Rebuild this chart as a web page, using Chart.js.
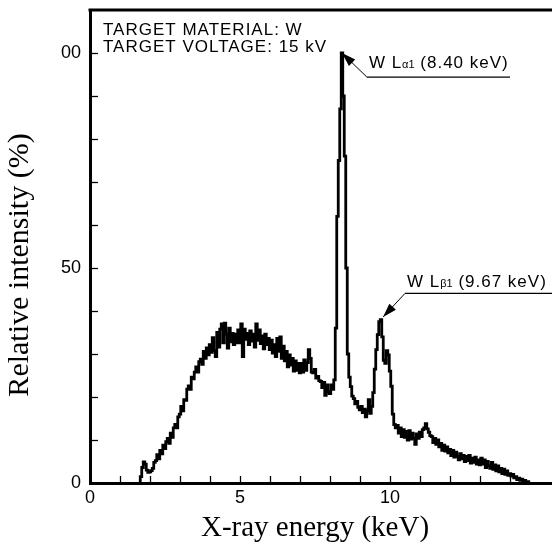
<!DOCTYPE html>
<html><head><meta charset="utf-8">
<script src="https://cdn.jsdelivr.net/npm/chart.js@4"></script>
<style>html,body{margin:0;padding:0;background:#fff;}canvas{display:block;}</style>
</head><body>
<canvas id="c" width="552" height="550" style="width:552px;height:550px"></canvas>
<script>
// ---- data ----
const energy = [
 1.65,1.70,1.75,1.80,1.85,1.90,1.95,
 2.00,2.05,2.10,2.15,2.20,2.25,2.30,2.35,2.40,2.45,2.50,2.55,2.60,2.65,2.70,2.75,2.80,2.85,2.90,2.95,
 3.00,3.05,3.10,3.15,3.20,3.25,3.30,3.35,3.40,3.45,3.50,3.55,3.60,3.65,3.70,3.75,3.80,3.85,3.90,3.95,
 4.00,4.05,4.10,4.15,4.20,4.25,4.30,4.35,4.40,4.45,4.50,4.55,4.60,4.65,4.70,4.75,4.80,4.85,4.90,4.95,
 5.00,5.05,5.10,5.15,5.20,5.25,5.30,5.35,5.40,5.45,5.50,5.55,5.60,5.65,5.70,5.75,5.80,5.85,5.90,5.95,
 6.00,6.05,6.10,6.15,6.20,6.25,6.30,6.35,6.40,6.45,6.50,6.55,6.60,6.65,6.70,6.75,6.80,6.85,6.90,6.95,
 7.00,7.05,7.10,7.15,7.20,7.25,7.30,7.35,7.40,7.45,7.50,7.55,7.60,7.65,7.70,7.75,7.80,7.85,7.90,7.95,
 8.00,8.05,8.10,8.15,8.20,8.25,8.30,8.35,8.40,8.45,8.50,8.55,8.60,8.65,8.70,8.75,8.80,8.85,8.90,8.95,
 9.00,9.05,9.10,9.15,9.20,9.25,9.30,9.35,9.40,9.45,9.50,9.55,9.60,9.65,9.70,9.75,9.80,9.85,9.90,9.95,
 10.00,10.05,10.10,10.15,10.20,10.25,10.30,10.35,10.40,10.45,10.50,10.55,10.60,10.65,10.70,10.75,10.80,10.85,10.90,10.95,
 11.00,11.05,11.10,11.15,11.20,11.25,11.30,11.35,11.40,11.45,11.50,11.55,11.60,11.65,11.70,11.75,11.80,11.85,11.90,11.95,
 12.00,12.05,12.10,12.15,12.20,12.25,12.30,12.35,12.40,12.45,12.50,12.55,12.60,12.65,12.70,12.75,12.80,12.85,12.90,12.95,
 13.00,13.05,13.10,13.15,13.20,13.25,13.30,13.35,13.40,13.45,13.50,13.55,13.60,13.65,13.70,13.75,13.80,13.85,13.90,13.95,
 14.00,14.05,14.10,14.15,14.20,14.25,14.30,14.35,14.40,14.45,14.50,14.55,14.60,14.65
];
const intensity = [
 0,1.5,3.6,4.9,4.4,3.0,2.5,
 2.6,2.9,3.4,4.8,5.2,6.6,5.6,7.6,6.8,8.8,8.0,9.6,10.4,9.2,11.6,10.6,12.8,13.6,12.8,15.4,
 16.0,17.8,16.8,19.4,19.2,21.8,22.6,21.8,24.6,24.2,25.8,27.0,25.8,28.2,28.8,27.6,30.6,29.0,31.4,29.8,
 32.2,30.4,33.8,30.8,29.4,35.0,31.6,35.8,37.0,32.6,37.2,34.6,31.4,36.0,32.8,34.8,32.2,34.6,32.6,35.6,
 32.6,37.0,29.4,35.8,33.4,34.8,32.2,35.4,33.0,34.6,31.6,37.0,33.2,35.6,32.4,34.2,31.2,34.6,32.2,33.6,
 31.0,33.2,30.2,32.2,29.4,33.6,30.6,34.0,29.0,31.8,28.4,30.6,27.0,29.8,27.4,29.0,26.0,28.4,26.2,27.8,
 25.6,27.8,25.8,28.6,26.2,28.0,31.0,29.0,25.8,25.6,26.4,24.4,24.8,23.8,23.6,22.2,23.4,20.4,22.8,21.2,
 20.8,22.8,21.8,24.0,36.0,62.0,75.0,87.0,100.0,90.0,76.0,50.0,30.0,24.6,22.4,20.2,19.6,18.4,19.0,17.6,
 17.0,17.8,16.4,17.2,15.4,16.8,19.4,16.2,17.8,21.0,26.5,31.0,34.5,37.5,38.0,34.0,28.5,27.8,30.8,29.8,
 26.0,22.5,16.0,13.6,12.8,13.4,11.6,12.8,10.8,12.4,10.6,12.0,10.0,12.2,10.2,11.6,10.4,9.0,11.4,10.4,
 11.8,10.8,12.4,12.8,13.8,12.6,11.8,11.0,10.8,9.4,10.4,9.0,10.0,8.4,9.2,7.6,8.8,7.4,8.4,7.0,
 7.8,6.4,7.6,6.0,7.2,6.2,5.4,6.8,5.6,6.4,5.0,6.2,5.2,6.4,4.6,5.8,4.8,6.0,4.4,5.4,
 4.2,5.8,4.4,5.4,3.6,5.0,4.0,3.4,4.8,3.2,4.2,2.8,4.0,2.6,3.4,2.2,3.2,2.0,2.8,1.8,
 2.2,1.6,2.0,1.2,1.5,0.8,1.1,0.6,0.9,0.4,0.6,0.2,0.3,0.0
];
const xLabelValues = [0, 5, 10, 15];
const yLabelValues = [0, 50, 100];
const yLabelTexts = ['0', '50', '00'];
const infoLines = ['TARGET MATERIAL: W', 'TARGET VOLTAGE: 15 kV'];
const peakMain = ['W L', 'W L'];
const peakSub = ['\u03b11', '\u03b21'];
const peakTail = [' (8.40 keV)', ' (9.67 keV)'];
const xTitle = 'X-ray energy (keV)';
const yTitle = 'Relative intensity (%)';

// ---- annotation geometry (in data units) ----
const peakGeometry = [
  {tip: [8.40, 100.0], elbow: [9.23, 94.4], end: [14.0, 94.4], gap: 9},
  {tip: [9.77, 38.6], elbow: [10.5, 44.1], end: [15.4, 44.1], gap: 6}
];

const points = energy.map((e, i) => ({x: e, y: intensity[i]}));
const SANS = '"Liberation Sans", Arial, Helvetica, sans-serif';
const SERIF = '"Liberation Serif", "Times New Roman", serif';

const decor = {
  id: 'decor',
  afterDraw(chart) {
    const {ctx, chartArea: a, scales: {x, y}} = chart;
    ctx.save();
    ctx.strokeStyle = '#000';
    ctx.fillStyle = '#000';
    // top frame
    ctx.lineWidth = 3;
    ctx.beginPath(); ctx.moveTo(a.left - 1.5, a.top); ctx.lineTo(a.right, a.top); ctx.stroke();
    // inward tick marks
    ctx.lineWidth = 1.3;
    x.ticks.forEach(t => {
      if (t.value <= x.min || t.value >= x.max) return;
      const p = Math.round(x.getPixelForValue(t.value)) + 0.5;
      ctx.beginPath(); ctx.moveTo(p, a.bottom); ctx.lineTo(p, a.bottom - 7); ctx.stroke();
    });
    y.ticks.forEach(t => {
      if (t.value <= y.min || t.value >= y.max) return;
      const p = Math.round(y.getPixelForValue(t.value)) + 0.5;
      ctx.beginPath(); ctx.moveTo(a.left, p); ctx.lineTo(a.left + 8, p); ctx.stroke();
    });
    // info text
    ctx.textAlign = 'left';
    ctx.textBaseline = 'alphabetic';
    ctx.font = '17px ' + SANS;
    ctx.letterSpacing = '1px';
    infoLines.forEach((s, i) => ctx.fillText(s, a.left + 13, a.top + 25 + i * 17));
    // peak labels
    peakGeometry.forEach((g, i) => {
      const tx = x.getPixelForValue(g.tip[0]), ty = y.getPixelForValue(g.tip[1]);
      const ex = x.getPixelForValue(g.elbow[0]), ey = y.getPixelForValue(g.elbow[1]);
      const fx = x.getPixelForValue(g.end[0]);
      ctx.lineWidth = 1;
      ctx.beginPath(); ctx.moveTo(ex, ey); ctx.lineTo(tx, ty); ctx.stroke();
      ctx.lineWidth = 1.3;
      ctx.beginPath(); ctx.moveTo(ex, ey); ctx.lineTo(fx, ey); ctx.stroke();
      // arrow head
      const ang = Math.atan2(ty - ey, tx - ex);
      const L = 14, W = 4.5;
      const bx = tx - L * Math.cos(ang), by = ty - L * Math.sin(ang);
      ctx.beginPath();
      ctx.moveTo(tx, ty);
      ctx.lineTo(bx + W * Math.sin(ang), by - W * Math.cos(ang));
      ctx.lineTo(bx - W * Math.sin(ang), by + W * Math.cos(ang));
      ctx.closePath(); ctx.fill();
      // text
      let px = ex + 2; const py = ey - g.gap;
      ctx.font = '17px ' + SANS; ctx.letterSpacing = '1px';
      ctx.fillText(peakMain[i], px, py); px += ctx.measureText(peakMain[i]).width;
      ctx.font = '11px ' + SANS; ctx.letterSpacing = '0px';
      ctx.fillText(peakSub[i], px, py); px += ctx.measureText(peakSub[i]).width;
      ctx.font = '17px ' + SANS; ctx.letterSpacing = '1px';
      ctx.fillText(peakTail[i], px, py);
    });
    ctx.letterSpacing = '0px';
    // axis titles
    ctx.textAlign = 'center';
    ctx.textBaseline = 'middle';
    ctx.font = '29px ' + SERIF;
    ctx.fillText(xTitle, 315, 528);
    ctx.save();
    ctx.font = '30px ' + SERIF;
    ctx.translate(20, 265);
    ctx.rotate(-Math.PI / 2);
    ctx.fillText(yTitle, 0, 0);
    ctx.restore();
    ctx.restore();
  }
};

new Chart(document.getElementById('c'), {
  type: 'line',
  data: {datasets: [{data: points, borderColor: '#000', borderWidth: 2.8, pointRadius: 0, stepped: 'middle', fill: false}]},
  options: {
    responsive: false, animation: false, devicePixelRatio: 1,
    layout: {padding: {top: 10, left: 0, right: 0, bottom: 0}},
    plugins: {legend: {display: false}, tooltip: {enabled: false}},
    scales: {
      x: {
        type: 'linear', min: 0, max: 15.4,
        grid: {display: false, drawTicks: false},
        border: {display: true, color: '#000', width: 3},
        ticks: {stepSize: 1, autoSkip: false, maxRotation: 0, padding: 4, color: '#000',
          font: {family: SANS, size: 18},
          callback: v => xLabelValues.includes(v) ? String(v) : ''},
        afterFit(s) { s.height = 67; s.paddingLeft = 0; s.paddingRight = 0; }
      },
      y: {
        type: 'linear', min: 0, max: 110,
        grid: {display: false, drawTicks: false},
        border: {display: true, color: '#000', width: 3},
        ticks: {stepSize: 10, autoSkip: false, padding: 9, color: '#000',
          font: {family: SANS, size: 18},
          callback: v => { const k = yLabelValues.indexOf(v); return k >= 0 ? yLabelTexts[k] : ''; }},
        afterFit(s) { s.width = 90; s.paddingTop = 0; s.paddingBottom = 0; }
      }
    }
  },
  plugins: [decor]
});
</script>
</body></html>
